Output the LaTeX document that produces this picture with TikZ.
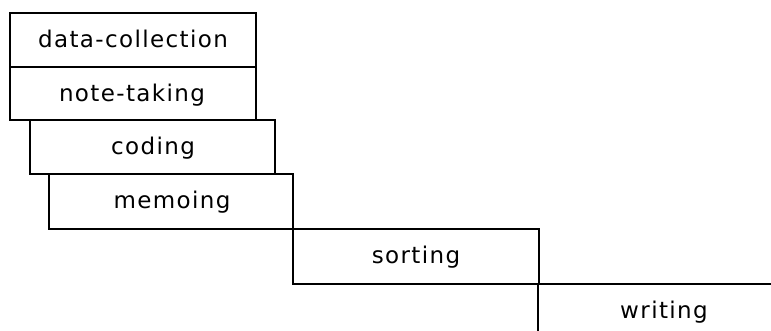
\documentclass[tikz,border=0pt]{standalone}
\usepackage{fontspec}
\newfontfamily\stagefont[LetterSpace=6]{DejaVu Sans}
\tikzset{
  stage/.style={font=\stagefont\fontsize{23}{27}\selectfont, text height=17pt, text depth=0pt, inner sep=0pt},
  thin box/.style={draw=black, line width=1.2pt},
  thick box/.style={draw=black, line width=1.8pt}
}

\begin{document}
\begin{tikzpicture}[x=1pt, y=-1pt]
\useasboundingbox (0,0) rectangle (771,331);

\draw[thin box] (10,13) rectangle (256,67);
\draw[thin box] (10,67) rectangle (256,120);
\draw[thick box] (30,120) rectangle (275,174);
\draw[thick box] (49,174) rectangle (293,229);
\draw[thin box] (293,229) rectangle (539,284);
\draw[thin box] (771,284) -- (538,284) -- (538,331);

\node[stage] (datacollection) at (133,39) {data-collection};
\node[stage] (notetaking) at (132,93) {note-taking};
\node[stage] (coding) at (153,146) {coding};
\node[stage] (memoing) at (172,200) {memoing};
\node[stage] (sorting) at (416,255) {sorting};
\node[stage] (writing) at (664,310) {writing};

\end{tikzpicture}
\end{document}
